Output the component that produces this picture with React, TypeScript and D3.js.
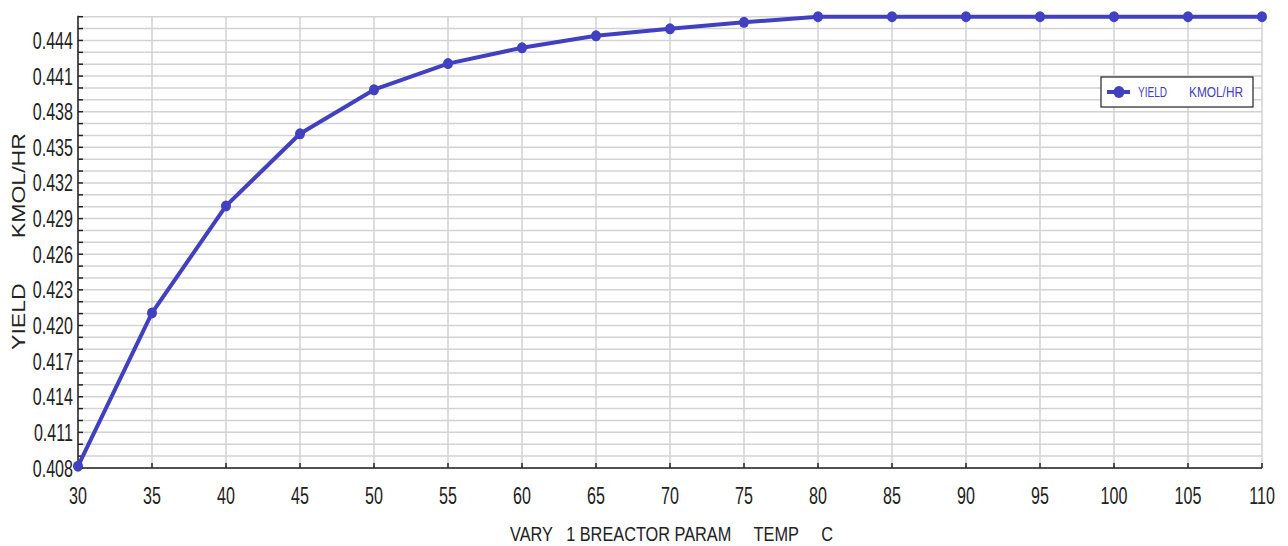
import React from "react";
import * as d3 from "d3";

const temps = [30, 35, 40, 45, 50, 55, 60, 65, 70, 75, 80, 85, 90, 95, 100, 105, 110];
const yields = [0.40815, 0.42106, 0.43007, 0.43614, 0.43985, 0.44205, 0.44338, 0.44439, 0.44498, 0.44553, 0.446, 0.446, 0.446, 0.446, 0.446, 0.446, 0.446];
const yTickLabels = [0.408, 0.411, 0.414, 0.417, 0.42, 0.423, 0.426, 0.429, 0.432, 0.435, 0.438, 0.441, 0.444];
const xTickLabels = temps;

const W = 1288, H = 546;
const left = 78, right = 1262, top = 16.7, bottom = 468;
const color = "#4040c0";
const font = "'Liberation Sans', Arial, sans-serif";
const sx = 0.7;

export default function App() {
  const x = d3.scaleLinear().domain([30, 110]).range([left, right]);
  const y = d3.scaleLinear().domain([0.408, 0.446]).range([bottom, top]);
  const minor = d3.range(0, 39).map((i) => 0.408 + i * 0.001);
  const line = d3.line<number>().x((_, i) => x(temps[i])).y((d) => y(d));

  return (
    <svg width={W} height={H} style={{ position: "absolute", left: 0, top: 0, background: "#fff" }}>
      {/* grid */}
      {minor.map((v, i) => (
        <line key={"h" + i} x1={left} x2={right} y1={y(v)} y2={y(v)} stroke="#d2d2d2" strokeWidth={1.5} />
      ))}
      {xTickLabels.map((t) => (
        <line key={"v" + t} x1={x(t)} x2={x(t)} y1={top} y2={bottom} stroke="#d2d2d2" strokeWidth={1.5} />
      ))}
      {/* axes */}
      <line x1={left} x2={left} y1={top - 1} y2={bottom} stroke="#222" strokeWidth={1.5} />
      <line x1={left} x2={right} y1={bottom} y2={bottom} stroke="#222" strokeWidth={1.5} />
      {minor.map((v, i) => (
        <line key={"t" + i} x1={left} x2={left + 5} y1={y(v)} y2={y(v)} stroke="#222" strokeWidth={1.5} />
      ))}
      {xTickLabels.map((t) => (
        <line key={"xt" + t} x1={x(t)} x2={x(t)} y1={bottom} y2={bottom - 5} stroke="#222" strokeWidth={1.5} />
      ))}
      {yTickLabels.map((v) => (
        <text key={"yl" + v} transform={`translate(${left - 5},${y(v) + 8.5}) scale(${sx},1)`} textAnchor="end" fontFamily={font} fontSize={23} fill="#222">
          {v.toFixed(3)}
        </text>
      ))}
      {xTickLabels.map((t) => (
        <text key={"xl" + t} transform={`translate(${x(t)},504) scale(${sx},1)`} textAnchor="middle" fontFamily={font} fontSize={23} fill="#222">
          {t}
        </text>
      ))}
      <text x={510} y={541} textLength={323} lengthAdjust="spacingAndGlyphs" fontFamily={font} fontSize={21} fill="#222" style={{ whiteSpace: "pre" }}>
        {"VARY   1 BREACTOR PARAM     TEMP     C"}
      </text>
      <text transform={`translate(25,350) rotate(-90)`} textLength={217} lengthAdjust="spacingAndGlyphs" fontFamily={font} fontSize={18} fill="#222" style={{ whiteSpace: "pre" }}>
        {"YIELD       KMOL/HR"}
      </text>
      {/* series */}
      <path d={line(yields) || ""} fill="none" stroke={color} strokeWidth={4} strokeLinejoin="round" />
      {yields.map((v, i) => (
        <ellipse key={"c" + i} cx={x(temps[i])} cy={y(v)} rx={5} ry={5.5} fill={color} />
      ))}
      {/* legend */}
      <rect x={1101} y={77} width={152} height={30} fill="#fff" stroke="#222" strokeWidth={1.2} />
      <line x1={1107} x2={1130} y1={92} y2={92} stroke={color} strokeWidth={4} />
      <ellipse cx={1119} cy={92} rx={5.5} ry={6} fill={color} />
      <text x={1138} y={92} dy="0.36em" textLength={29} lengthAdjust="spacingAndGlyphs" fontFamily={font} fontSize={14} fill={color}>YIELD</text>
      <text x={1189} y={92} dy="0.36em" textLength={54} lengthAdjust="spacingAndGlyphs" fontFamily={font} fontSize={14} fill={color}>KMOL/HR</text>
    </svg>
  );
}
